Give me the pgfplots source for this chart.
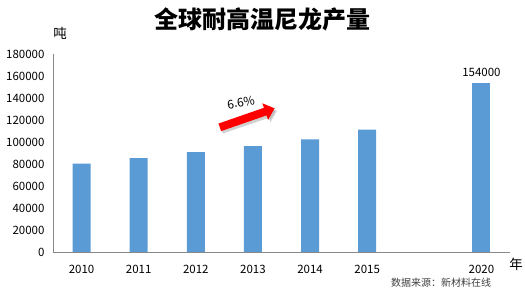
\documentclass[border=0pt]{standalone}
\usepackage{fontspec}
\setmainfont{Noto Sans CJK SC}
\usepackage{pgfplots}
\pgfplotsset{compat=1.18}
\usetikzlibrary{arrows.meta}
\definecolor{barblue}{HTML}{5B9BD5}
\definecolor{axgray}{HTML}{898989}
\begin{document}
\begin{tikzpicture}[x=1pt,y=1pt]
\path[use as bounding box] (0,0) rectangle (525,297);
\begin{axis}[
  at={(53pt,45pt)}, anchor=south west,
  scale only axis, width=457pt, height=197.7pt,
  xmin=-0.5, xmax=7.5, ymin=0, ymax=180000,
  axis x line*=bottom, axis y line*=left,
  axis line style={axgray, line width=0.8pt},
  ytick={0,20000,...,180000},
  xtick={0,1,2,3,4,5,7},
  xticklabels={2010,2011,2012,2013,2014,2015,2020},
  major tick length=0pt,
  scaled y ticks=false,
  /pgf/number format/.cd, fixed, 1000 sep={}, assume math mode=true, /pgfplots/.cd,
  ticklabel style={font=\fontsize{11.5}{12}\selectfont},
  yticklabel style={xshift=-5pt},
  xticklabel style={yshift=-10pt},
  ybar, bar width=18pt, bar shift=0pt,
  clip=false,
]
\addplot[fill=barblue, draw=none] coordinates {(0,80500) (1,85500) (2,91000) (3,96500) (4,102500) (5,111500)};
\addplot[fill=barblue, draw=none, nodes near coords,
  nodes near coords style={font=\fontsize{11.5}{12}\selectfont, yshift=3pt},
  /pgf/number format/.cd, fixed, 1000 sep={}] coordinates {(7,154000)};
\draw[black!30, opacity=0.6, line width=8pt, -{Triangle[length=10pt,width=17pt]}]
  (axis cs:2.45,111300) -- (axis cs:3.42,128600);
\draw[red, line width=8pt, -{Triangle[length=10pt,width=17pt]}]
  (axis cs:2.42,113500) -- (axis cs:3.38,130800);
\node[rotate=10, font=\fontsize{12}{13}\selectfont] at (axis cs:2.79,136300) {6.6\%};
\end{axis}
\node[font=\fontsize{24}{26}\selectfont\bfseries] at (262,278) {全球耐高温尼龙产量};
\node[font=\fontsize{13.5}{15}\selectfont] at (60,264) {吨};
\node[font=\fontsize{13.5}{15}\selectfont] at (516,33) {年};
\node[font=\fontsize{10}{11}\selectfont, text=black!75] at (441,14) {数据来源：新材料在线};
\end{tikzpicture}
\end{document}
